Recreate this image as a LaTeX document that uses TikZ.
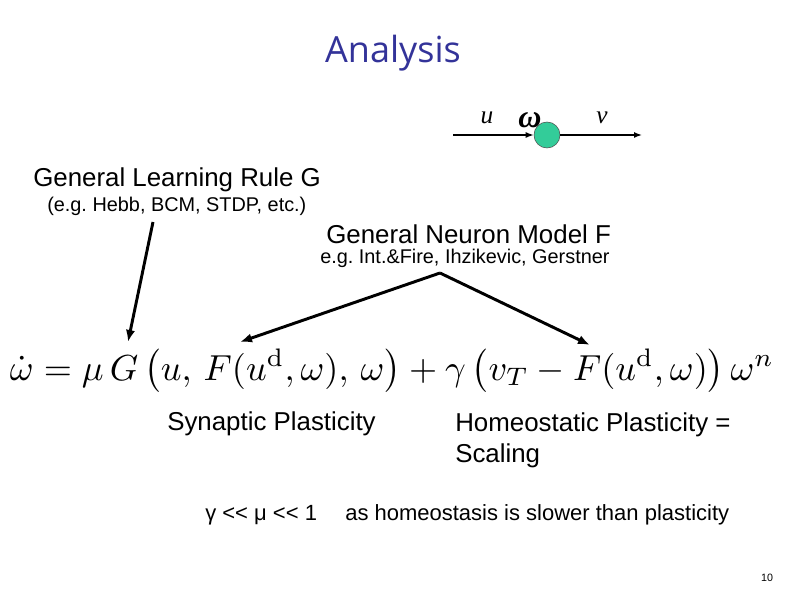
\documentclass[tikz,border=0pt]{standalone}
\usepackage{amsmath,amssymb}
\usepackage{graphicx}
\usepackage{xcolor}
\usepackage[no-math]{fontspec}
\setmainfont{Liberation Sans}
\newfontfamily\titlefont{Open Sans}
\newfontfamily\serifit{Liberation Serif}
\usepackage{tikz}
\usetikzlibrary{arrows.meta,positioning}

\definecolor{titleblue}{RGB}{51,51,153}
\definecolor{somagreen}{RGB}{51,204,153}
\frenchspacing

\begin{document}
\begin{tikzpicture}[
        x=0.75pt, y=-0.75pt,
        big/.style={font=\fontsize{19.4}{23}\selectfont, inner sep=0pt, anchor=west},
        small/.style={font=\fontsize{14.9}{18}\selectfont, inner sep=0pt, anchor=west},
        note/.style={font=\fontsize{16.5}{20}\selectfont, inner sep=0pt, anchor=west},
        sym/.style={font=\fontsize{19}{22}\serifit\itshape, inner sep=0pt},
        neuron/.style={circle, draw=black!70, fill=somagreen, minimum size=19.5pt, inner sep=0pt},
        arr/.style={-{Latex[length=9pt, width=7pt]}, line width=2.2pt},
        thinarr/.style={-{Latex[length=6pt, width=4.5pt]}, line width=1.1pt}
    ]
        \useasboundingbox (0,0) rectangle (794,595);

        \node[font=\fontsize{27}{31}\titlefont, text=titleblue, inner sep=0pt] (title) at (393,53) {Analysis};

        % neuron sketch
        \node[neuron] (soma) at (547,135) {};
        \coordinate (input) at (453,135);
        \coordinate (output) at (642,135);
        \draw[thinarr] (input) -- (soma);
        \draw[thinarr] (soma) -- (output);
        \node[sym] (ulab) at (487,118) {u};
        \node[sym, font=\fontsize{24}{26}\serifit\bfseries\itshape] (wlab) at (530,120) {ω};
        \node[sym] (vlab) at (602,118) {v};

        \node[big] (rule) at (33,180) {General Learning Rule G};
        \node[small] (ruleex) at (47,206) {(e.g. Hebb, BCM, STDP, etc.)};
        \node[big] (model) at (326,234) {General Neuron Model F};
        \node[small] (modelex) at (320,258) {e.g. Int.\&Fire, Ihzikevic, Gerstner};

        \node[inner sep=0pt] (eq) at (392,371) {\resizebox{573pt}{!}{$\dot{\omega} = \mu\, G\left(u,\, F(u^{\mathrm{d}},\omega),\, \omega\right) + \gamma\left(v_T - F(u^{\mathrm{d}},\omega)\right)\omega^n$}};

        \coordinate (rulefoot) at (153,222);
        \coordinate (modelfoot) at (440,273);
        \coordinate (Gtip) at (128,342);
        \coordinate (Fleft) at (240,342);
        \coordinate (Fright) at (590,345);
        \draw[arr] (rulefoot) -- (Gtip);
        \draw[arr] (modelfoot) -- (Fleft);
        \draw[arr] (modelfoot) -- (Fright);

        \node[big] (syn) at (167,424) {Synaptic Plasticity};
        \node[big, align=left, anchor=north west, font=\fontsize{19.4}{23.25}\selectfont] (homeo) at (455,412) {Homeostatic Plasticity =\\Scaling};

        \node[note] (ratio) at (205,515) {γ <{}< μ <{}< 1};
        \node[note] (reason) at (345,515) {as homeostasis is slower than plasticity};

        \node[font=\fontsize{8}{9}\selectfont, inner sep=0pt] (page) at (767,578) {10};
    \end{tikzpicture}
\end{document}
